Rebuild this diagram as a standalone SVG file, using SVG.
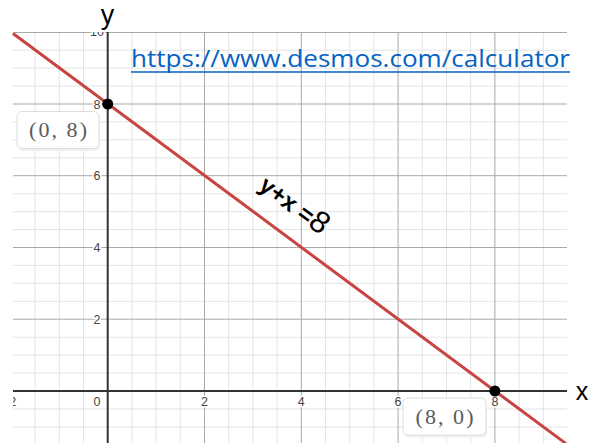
<svg xmlns="http://www.w3.org/2000/svg" width="591" height="443" viewBox="0 0 591 443">
  <defs>
    <clipPath id="plot"><rect x="13" y="32" width="554" height="411"/></clipPath>
    <style>
      .minor{stroke:#e4e4e4;stroke-width:1}
      .major{stroke:#a8a8a8;stroke-width:1}
      .axis{stroke:#333;stroke-width:2}
      .tick{font-family:"Liberation Sans",Arial,sans-serif;font-size:12.5px;fill:#444;text-anchor:middle;stroke:#fff;stroke-width:3;paint-order:stroke}
      .pbox{fill:#fff;stroke:#dedede;stroke-width:1}
      .pshadow{fill:#f0f0f0}
      .ptext{font-family:"Liberation Serif","DejaVu Serif",serif;font-size:22px;fill:#5a5a5a;text-anchor:middle}
      .big{font-family:"Liberation Sans",Arial,sans-serif;fill:#000}
    </style>
  </defs>
  <rect width="591" height="443" fill="#fff"/>
  <g id="grid" clip-path="url(#plot)">
    <g class="minor">
      <line x1="35.1" y1="32" x2="35.1" y2="443"/>
      <line x1="59.3" y1="32" x2="59.3" y2="443"/>
      <line x1="83.5" y1="32" x2="83.5" y2="443"/>
      <line x1="131.9" y1="32" x2="131.9" y2="443"/>
      <line x1="156.1" y1="32" x2="156.1" y2="443"/>
      <line x1="180.3" y1="32" x2="180.3" y2="443"/>
      <line x1="228.7" y1="32" x2="228.7" y2="443"/>
      <line x1="252.9" y1="32" x2="252.9" y2="443"/>
      <line x1="277.1" y1="32" x2="277.1" y2="443"/>
      <line x1="325.5" y1="32" x2="325.5" y2="443"/>
      <line x1="349.7" y1="32" x2="349.7" y2="443"/>
      <line x1="373.9" y1="32" x2="373.9" y2="443"/>
      <line x1="422.3" y1="32" x2="422.3" y2="443"/>
      <line x1="446.5" y1="32" x2="446.5" y2="443"/>
      <line x1="470.7" y1="32" x2="470.7" y2="443"/>
      <line x1="519.1" y1="32" x2="519.1" y2="443"/>
      <line x1="543.3" y1="32" x2="543.3" y2="443"/>
      <line x1="13" y1="427" x2="567" y2="427"/>
      <line x1="13" y1="409" x2="567" y2="409"/>
      <line x1="13" y1="373.1" x2="567" y2="373.1"/>
      <line x1="13" y1="355.1" x2="567" y2="355.1"/>
      <line x1="13" y1="337.2" x2="567" y2="337.2"/>
      <line x1="13" y1="301.3" x2="567" y2="301.3"/>
      <line x1="13" y1="283.4" x2="567" y2="283.4"/>
      <line x1="13" y1="265.4" x2="567" y2="265.4"/>
      <line x1="13" y1="229.5" x2="567" y2="229.5"/>
      <line x1="13" y1="211.6" x2="567" y2="211.6"/>
      <line x1="13" y1="193.7" x2="567" y2="193.7"/>
      <line x1="13" y1="157.8" x2="567" y2="157.8"/>
      <line x1="13" y1="139.8" x2="567" y2="139.8"/>
      <line x1="13" y1="121.9" x2="567" y2="121.9"/>
      <line x1="13" y1="86" x2="567" y2="86"/>
      <line x1="13" y1="68.1" x2="567" y2="68.1"/>
      <line x1="13" y1="50.2" x2="567" y2="50.2"/>
    </g>
    <g class="major">
      <line x1="204.5" y1="32" x2="204.5" y2="443"/>
      <line x1="301.3" y1="32" x2="301.3" y2="443"/>
      <line x1="398.1" y1="32" x2="398.1" y2="443"/>
      <line x1="494.9" y1="32" x2="494.9" y2="443"/>
      <line x1="13" y1="319.2" x2="567" y2="319.2"/>
      <line x1="13" y1="247.5" x2="567" y2="247.5"/>
      <line x1="13" y1="175.7" x2="567" y2="175.7"/>
      <line x1="13" y1="104" x2="567" y2="104"/>
      <line x1="13" y1="32.5" x2="567" y2="32.5"/>
    </g>
    <g id="axes" class="axis">
      <line x1="13" y1="391" x2="567" y2="391"/>
      <line x1="107.7" y1="32" x2="107.7" y2="443"/>
    </g>
    <g id="ticks" class="tick">
      <text x="97" y="36">10</text>
      <text x="97" y="108.5">8</text>
      <text x="97" y="180">6</text>
      <text x="97" y="252">4</text>
      <text x="97" y="323.5">2</text>
      <text x="97" y="406">0</text>
      <text x="9" y="406">−2</text>
      <text x="204.5" y="406">2</text>
      <text x="301.3" y="406">4</text>
      <text x="398.1" y="406">6</text>
      <text x="494.9" y="406">8</text>
    </g>
  </g>
  <g id="connectors">
    <line x1="13" y1="33.5" x2="566" y2="443.6" stroke="#c74440" stroke-width="3"/>
  </g>
  <g id="point-0-8">
    <circle cx="107.7" cy="104" r="5.5" fill="#000"/>
    <rect class="pshadow" x="18" y="113" width="82" height="38" rx="5"/>
    <rect class="pbox" x="17" y="111.5" width="82" height="37" rx="5"/>
    <text class="ptext" x="58" y="137" textLength="58" lengthAdjust="spacing">(0, 8)</text>
  </g>
  <g id="point-8-0">
    <circle cx="494.9" cy="391" r="5.5" fill="#000"/>
    <rect class="pshadow" x="404" y="399.5" width="83" height="38" rx="5"/>
    <rect class="pbox" x="403" y="398" width="83" height="37" rx="5"/>
    <text class="ptext" x="444.5" y="424" textLength="58" lengthAdjust="spacing">(8, 0)</text>
  </g>
  <g id="equation" transform="translate(289,212) rotate(37)">
    <text class="big" x="0" y="0" text-anchor="middle" font-weight="bold" font-size="24">y+x =<tspan font-size="31" font-weight="normal">8</tspan></text>
  </g>
  <g id="axis-labels">
    <text class="big" x="107.5" y="24" font-size="27" text-anchor="middle">y</text>
    <text class="big" x="582" y="400" font-size="25" text-anchor="middle">x</text>
  </g>
  <g id="url">
    <text x="131" y="67" font-family="'Open Sans','Liberation Sans',sans-serif" font-size="24" fill="#0563C1" textLength="439" lengthAdjust="spacingAndGlyphs">https://www.desmos.com/calculator</text>
    <line x1="131" y1="72" x2="570" y2="72" stroke="#0563C1" stroke-width="1.5"/>
  </g>
</svg>
